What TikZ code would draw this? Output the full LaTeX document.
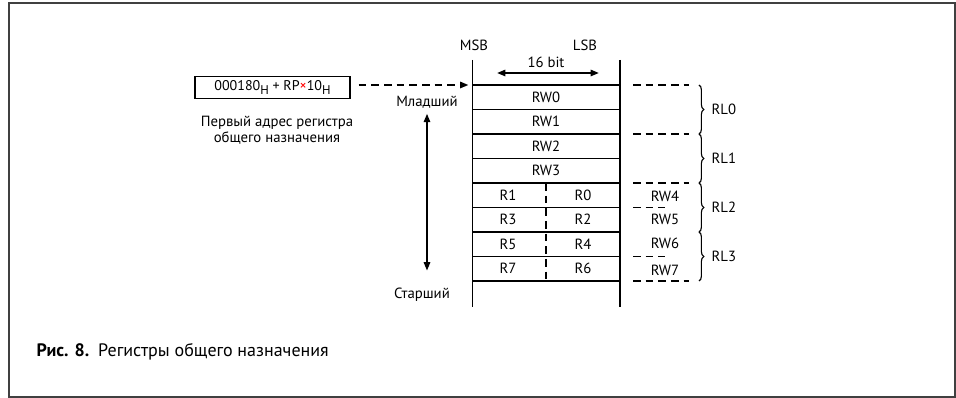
\documentclass[tikz,border=0pt]{standalone}
\usepackage{fontspec}
\setmainfont{PT Sans}
\usetikzlibrary{arrows.meta,decorations.pathreplacing,positioning}

\newcommand\regsub[1]{\raisebox{-0.45ex}{\fontsize{9}{10}\selectfont #1}}

\tikzset{
    dashline/.style={dashed,dash pattern=on 5.5pt off 3.5pt},
    brc/.style={decorate,line width=0.8pt,decoration={brace,amplitude=0.12cm}}
}

\begin{document}
\begin{tikzpicture}[x=0.025cm,y=-0.025cm,line width=1.3pt,>={Triangle[length=6pt,width=4.5pt]},
    font=\fontsize{10.5}{11.6}\selectfont]

\useasboundingbox (0,0) rectangle (956,398);
% frame
\draw[black!75,line width=1.2pt] (9,3) rectangle (955,397);

% register block
\coordinate (tl) at (472.5,85);
\draw (472.5,60) -- (472.5,307);
\draw (620,60) -- (620,307);
\foreach \i in {0,...,8}
    \draw (472.5,85+24.5*\i) -- (620,85+24.5*\i);
\draw[dashline] (546,183) -- (546,281);

% words and bytes
\foreach \t [count=\i from 0] in {RW0,RW1,RW2,RW3}
    \node (rw\i) at (546,97.25+24.5*\i) {\t};
\foreach \a/\b [count=\i from 0] in {R1/R0,R3/R2,R5/R4,R7/R6}{
    \node (hi\i) at (508,195+24.5*\i) {\a};
    \node (lo\i) at (583,195+24.5*\i) {\b};
}

% header
\node (msb) at (474,45) {MSB};
\node (lsb) at (585,45) {LSB};
\node (bits) at (546,62) {16 bit};
\coordinate (bl) at (497,73);
\coordinate (br) at (599,73);
\draw[<->] (bl) -- (br);

% start address
\node[draw,line width=1pt,minimum width=3.875cm,minimum height=0.475cm,
    font=\fontsize{10}{11}\selectfont] (addr) at (272.5,87.5)
    {000180\regsub{H} + RP\textcolor{red}{×}10\regsub{H}};
\node[align=center] (addrtxt) at (277,130) {Первый адрес регистра\\общего назначения};
\draw[dashline,->,shorten <=0.2cm,shorten >=0.1cm] (addr.east |- tl) -- (tl);

% order
\node (ml) at (427,102) {Младший};
\node (st) at (422,295) {Старший};
\draw[<->,shorten >=0.3cm] (ml.south) -- (ml.south |- st.north);

% right side
\foreach \y in {85,134,183,281}
    \draw[dashline] (633,\y) -- (689,\y);
\foreach \y in {207.5,256.5}
    \draw[dashline] (633,\y) -- (665,\y);
\node (rw4) at (665,196) {RW4};
\node (rw5) at (665,219) {RW5};
\node (rw6) at (665,243) {RW6};
\node (rw7) at (665,270) {RW7};

% braces
\foreach \t [count=\i from 0] in {RL0,RL1,RL2,RL3}{
    \draw[brc] (699,85+49*\i) -- (699,134+49*\i);
    \node[anchor=west] (rl\i) at (706,109.5+49*\i) {\t};
}

% caption
\node[anchor=west,font=\fontsize{12.8}{14}\selectfont] (cap) at (31,352)
    {\textbf{Рис. 8.}\enspace Регистры общего назначения};

\end{tikzpicture}
\end{document}
